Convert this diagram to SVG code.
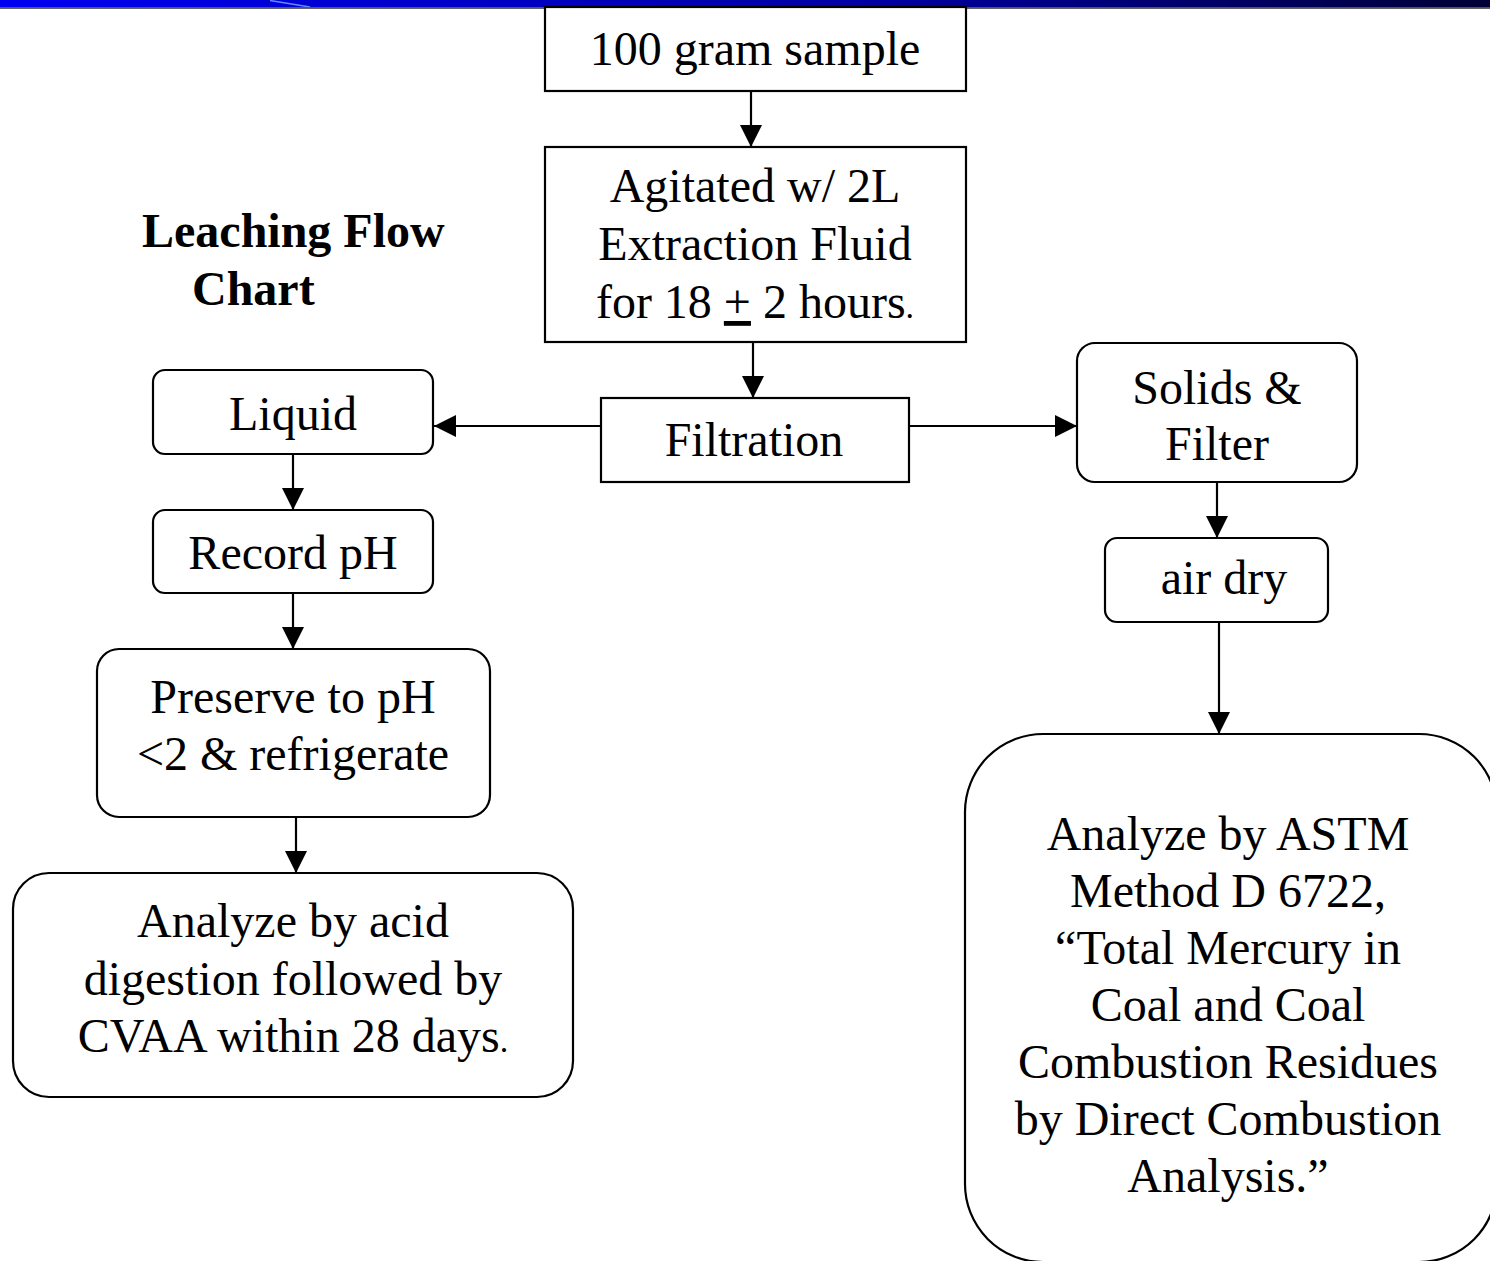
<svg xmlns="http://www.w3.org/2000/svg" width="1490" height="1261" viewBox="0 0 1490 1261">
  <defs>
    <linearGradient id="barGrad" x1="0" y1="0" x2="1" y2="0">
      <stop offset="0" stop-color="#0000f2"/>
      <stop offset="0.6" stop-color="#0000a0"/>
      <stop offset="1" stop-color="#000036"/>
    </linearGradient>
    <marker id="arrow" markerUnits="userSpaceOnUse" markerWidth="24" markerHeight="24" refX="22" refY="11" orient="auto">
      <path d="M0,0 L22,11 L0,22 z" fill="#000"/>
    </marker>
    <style>
      .box { fill: #fff; stroke: #000; stroke-width: 2.2; }
      .lbl { font-family: "Liberation Serif", "Times New Roman", serif; font-size: 48px; fill: #000; text-anchor: middle; }
      .title { font-family: "Liberation Serif", "Times New Roman", serif; font-size: 48px; font-weight: bold; fill: #000; }
      .conn line { stroke: #000; stroke-width: 2.2; marker-end: url(#arrow); }
      .small { font-size: 34px; }
    </style>
  </defs>

  <rect x="0" y="0" width="1490" height="1261" fill="#fff"/>

  <!-- header band -->
  <g id="header">
    <rect x="0" y="0" width="1490" height="7.5" fill="url(#barGrad)"/>
    <line x1="270" y1="0.5" x2="310" y2="7" stroke="#5c8cff" stroke-width="1.5"/>
    <rect x="0" y="7.5" width="1490" height="1.2" fill="#222"/>
  </g>

  <!-- connectors -->
  <g id="connectors" class="conn">
    <line x1="751" y1="91" x2="751" y2="147"/>
    <line x1="753" y1="342" x2="753" y2="398"/>
    <line x1="601" y1="426" x2="434" y2="426"/>
    <line x1="909" y1="426" x2="1077" y2="426"/>
    <line x1="293" y1="454" x2="293" y2="510"/>
    <line x1="293" y1="593" x2="293" y2="649"/>
    <line x1="296" y1="817" x2="296" y2="873"/>
    <line x1="1217" y1="482" x2="1217" y2="538"/>
    <line x1="1219" y1="622" x2="1219" y2="734"/>
  </g>

  <g id="title">
    <text class="title" x="142" y="247">Leaching Flow</text>
    <text class="title" x="192" y="305">Chart</text>
  </g>

  <g id="sample">
    <rect class="box" x="545" y="7" width="421" height="84"/>
    <text class="lbl" x="755" y="65">100 gram sample</text>
  </g>

  <g id="agitate">
    <rect class="box" x="545" y="147" width="421" height="195"/>
    <text class="lbl" x="755" y="202">Agitated w/ 2L</text>
    <text class="lbl" x="755" y="260">Extraction Fluid</text>
    <text class="lbl" x="755" y="318">for 18 <tspan text-decoration="underline">+</tspan> 2 hours<tspan class="small">.</tspan></text>
  </g>

  <g id="filtration">
    <rect class="box" x="601" y="398" width="308" height="84"/>
    <text class="lbl" x="754" y="456">Filtration</text>
  </g>

  <g id="liquid">
    <rect class="box" x="153" y="370" width="280" height="84" rx="12"/>
    <text class="lbl" x="293" y="430">Liquid</text>
  </g>

  <g id="record-ph">
    <rect class="box" x="153" y="510" width="280" height="83" rx="12"/>
    <text class="lbl" x="293" y="569">Record pH</text>
  </g>

  <g id="preserve">
    <rect class="box" x="97" y="649" width="393" height="168" rx="22"/>
    <text class="lbl" x="293" y="713">Preserve to pH</text>
    <text class="lbl" x="293" y="770">&lt;2 &amp; refrigerate</text>
  </g>

  <g id="analyze-liquid">
    <rect class="box" x="13" y="873" width="560" height="224" rx="36"/>
    <text class="lbl" x="293" y="937">Analyze by acid</text>
    <text class="lbl" x="293" y="995">digestion followed by</text>
    <text class="lbl" x="293" y="1052">CVAA within 28 days<tspan class="small">.</tspan></text>
  </g>

  <g id="solids">
    <rect class="box" x="1077" y="343" width="280" height="139" rx="18"/>
    <text class="lbl" x="1217" y="404">Solids &amp;</text>
    <text class="lbl" x="1217" y="460">Filter</text>
  </g>

  <g id="air-dry">
    <rect class="box" x="1105" y="538" width="223" height="84" rx="12"/>
    <text class="lbl" x="1224" y="594">air dry</text>
  </g>

  <g id="analyze-solids">
    <rect class="box" x="965" y="734" width="532" height="528" rx="78"/>
    <text class="lbl" x="1228" y="850">Analyze by ASTM</text>
    <text class="lbl" x="1228" y="907">Method D 6722,</text>
    <text class="lbl" x="1228" y="964">“Total Mercury in</text>
    <text class="lbl" x="1228" y="1021">Coal and Coal</text>
    <text class="lbl" x="1228" y="1078">Combustion Residues</text>
    <text class="lbl" x="1228" y="1135">by Direct Combustion</text>
    <text class="lbl" x="1228" y="1192">Analysis.”</text>
  </g>
</svg>
